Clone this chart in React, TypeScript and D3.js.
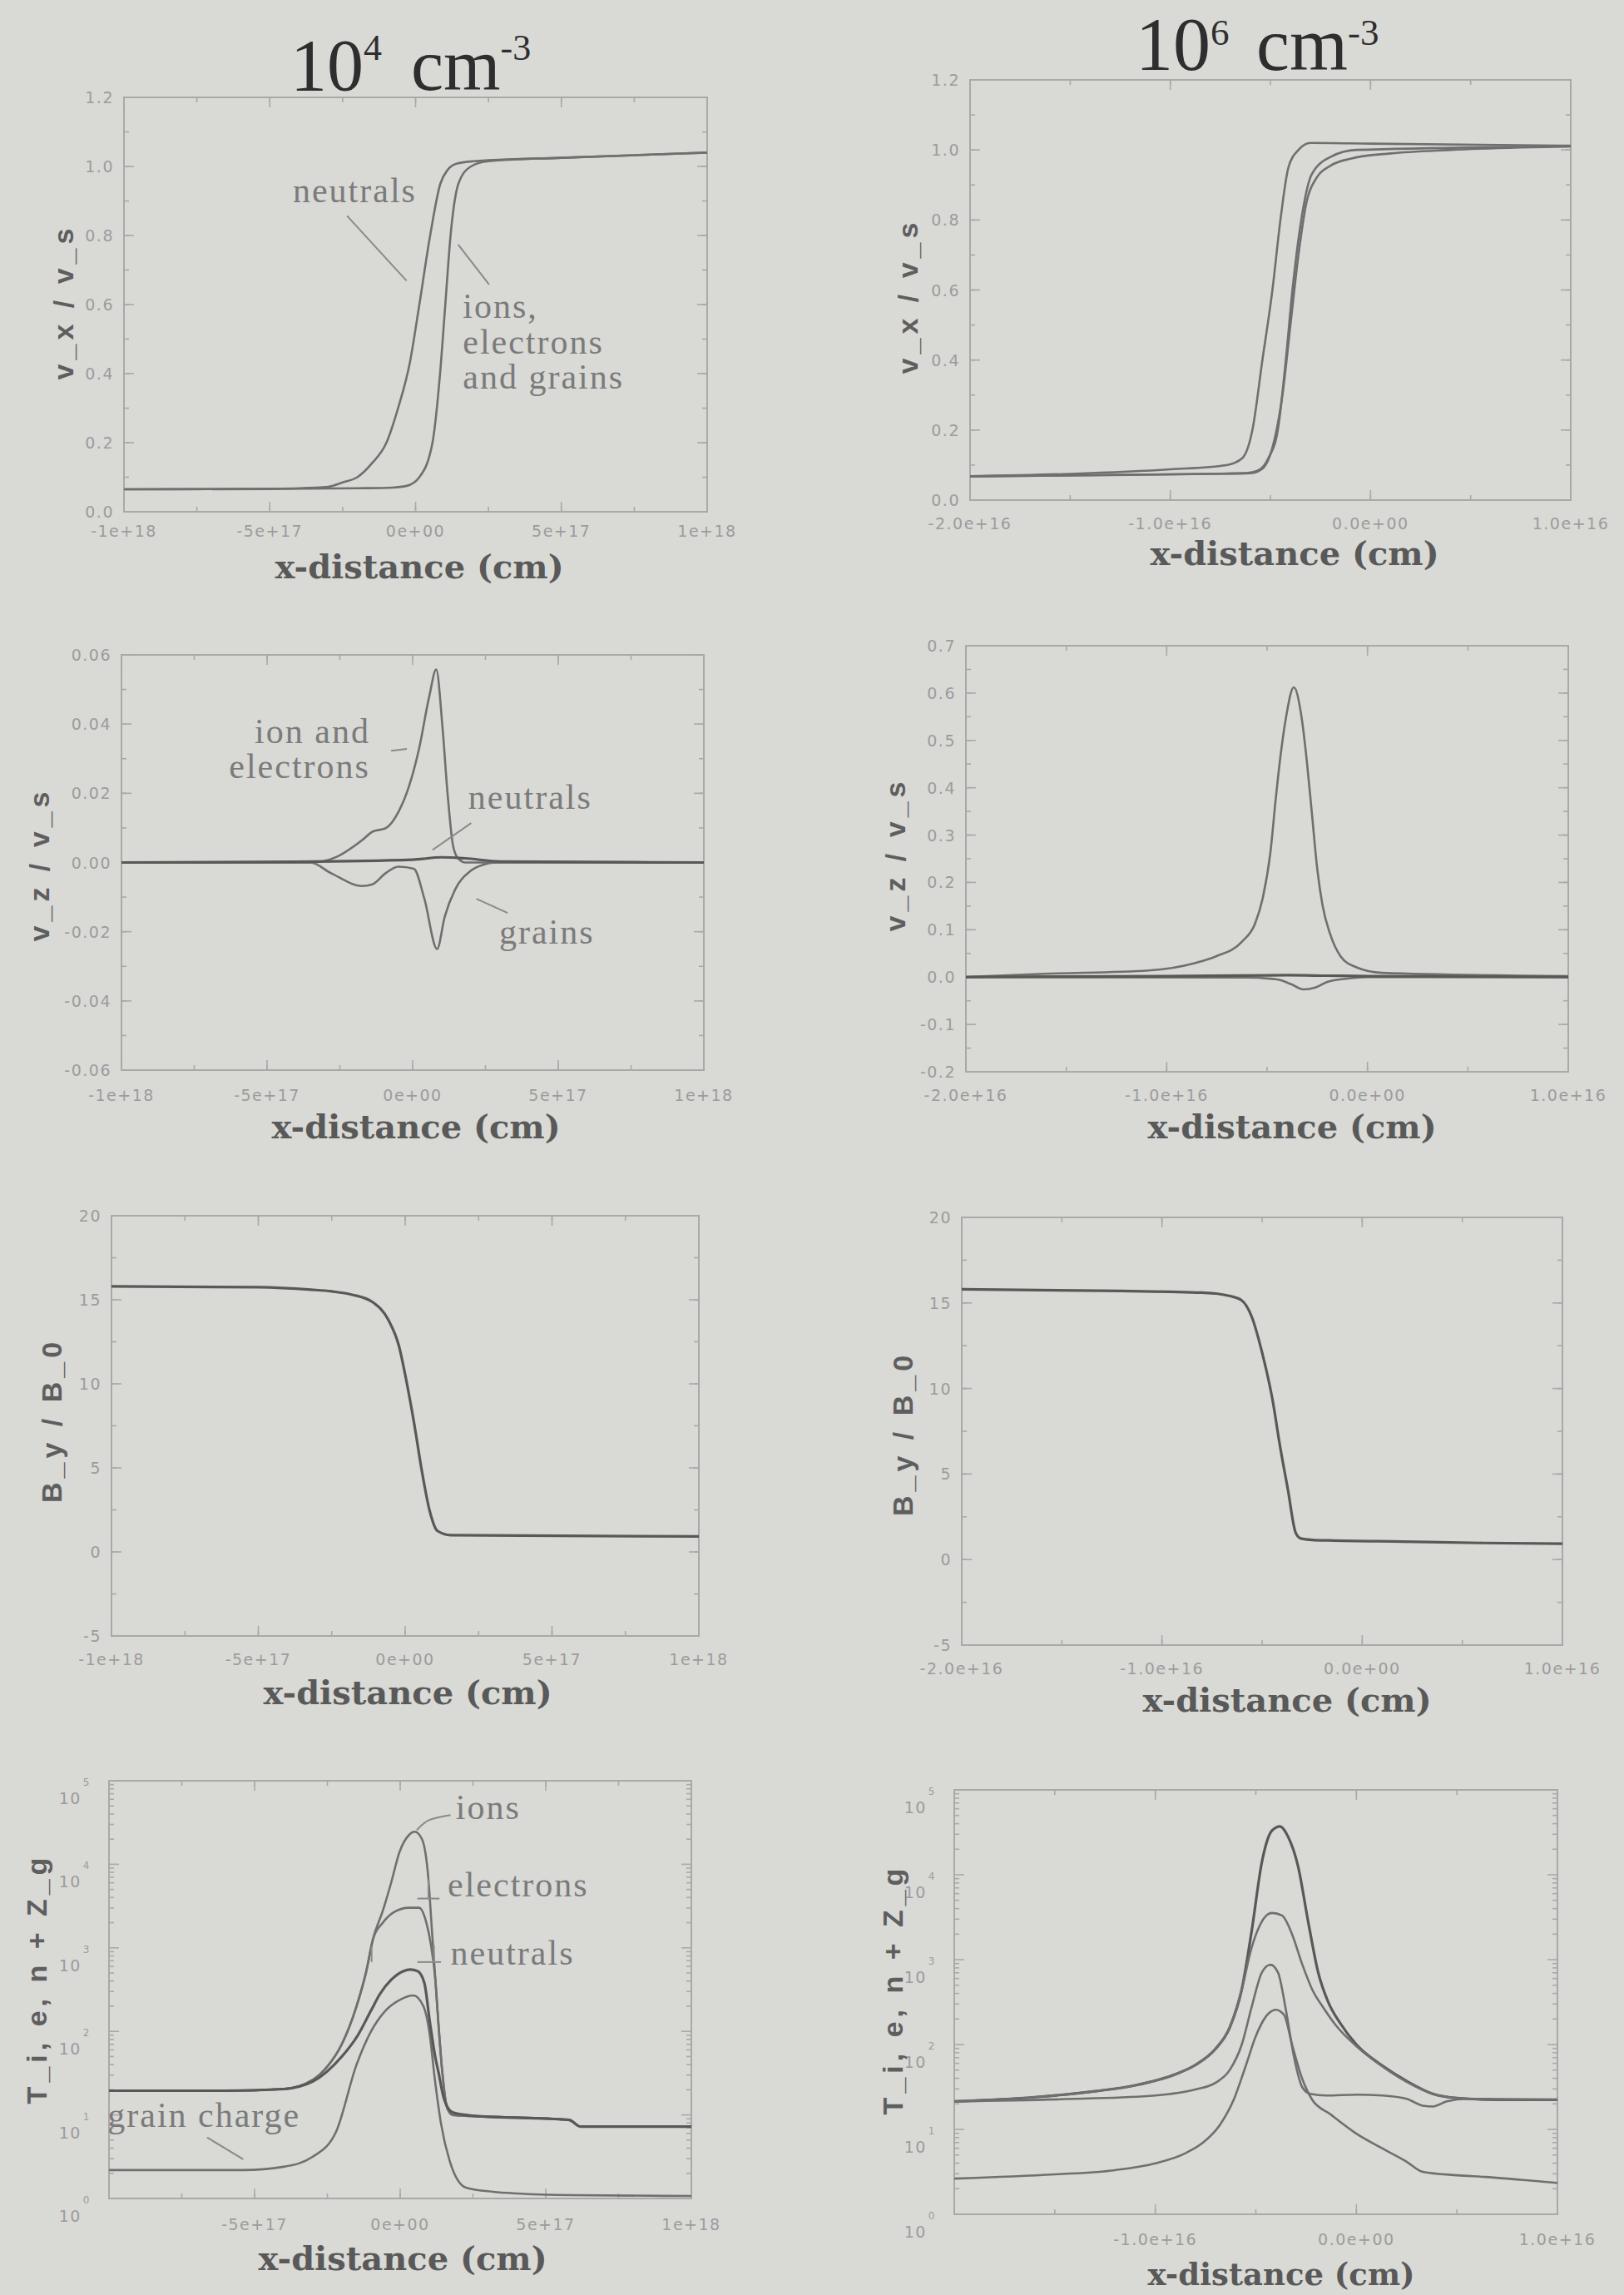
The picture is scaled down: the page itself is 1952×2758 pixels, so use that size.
import React from "react";
import * as d3 from "d3";

type Pt = [number, number];

// ---------- data ----------
// left column: x in units of 1e17 cm, right column: x in units of 1e15 cm
const leftXTicks = [-10, -5, 0, 5, 10];
const leftXLabels = ["-1e+18", "-5e+17", "0e+00", "5e+17", "1e+18"];
const rightXTicks = [-20, -10, 0, 10];
const rightXLabels = ["-2.0e+16", "-1.0e+16", "0.0e+00", "1.0e+16"];

const vxTicks = [0, 0.2, 0.4, 0.6, 0.8, 1.0, 1.2];
const vxLabels = ["0.0", "0.2", "0.4", "0.6", "0.8", "1.0", "1.2"];
const vz4Ticks = [-0.06, -0.04, -0.02, 0, 0.02, 0.04, 0.06];
const vz4Labels = ["-0.06", "-0.04", "-0.02", "0.00", "0.02", "0.04", "0.06"];
const vz6Ticks = [-0.2, -0.1, 0, 0.1, 0.2, 0.3, 0.4, 0.5, 0.6, 0.7];
const vz6Labels = ["-0.2", "-0.1", "0.0", "0.1", "0.2", "0.3", "0.4", "0.5", "0.6", "0.7"];
const byTicks = [-5, 0, 5, 10, 15, 20];
const byLabels = ["-5", "0", "5", "10", "15", "20"];
const logExps = [0, 1, 2, 3, 4, 5];

// v_x / v_s, n = 1e4
const vxNeutrals4: Pt[] = [[-10, 0.065], [-6, 0.066], [-4, 0.068], [-3, 0.072], [-2.5, 0.085], [-2, 0.1], [-1.5, 0.14], [-1, 0.2], [-0.6, 0.3], [-0.2, 0.43], [0.13, 0.6], [0.5, 0.8], [0.85, 0.95], [1.1, 0.99], [1.4, 1.008], [2, 1.015], [5, 1.025], [10, 1.04]];
const vxIons4: Pt[] = [[-10, 0.065], [-5, 0.066], [-2, 0.068], [-0.8, 0.07], [-0.3, 0.075], [0.13, 0.1], [0.58, 0.2], [0.84, 0.4], [1.02, 0.6], [1.2, 0.8], [1.47, 0.95], [1.9, 1.0], [2.5, 1.015], [5, 1.025], [10, 1.04]];

// v_x / v_s, n = 1e6
const vxNeutrals6: Pt[] = [[-20, 0.068], [-15, 0.075], [-10, 0.088], [-7.2, 0.1], [-6.4, 0.12], [-5.9, 0.2], [-5.4, 0.4], [-4.9, 0.6], [-4.5, 0.8], [-4.1, 0.95], [-3.6, 1.0], [-3.0, 1.02], [0, 1.018], [10, 1.012]];
const vxIons6: Pt[] = [[-20, 0.068], [-12, 0.072], [-8, 0.075], [-6.2, 0.077], [-5.6, 0.085], [-5.1, 0.12], [-4.63, 0.2], [-4.23, 0.4], [-3.9, 0.6], [-3.46, 0.8], [-2.94, 0.93], [-2.0, 0.98], [-0.7, 1.0], [10, 1.01]];
const vxGrains6: Pt[] = [[-20, 0.068], [-8, 0.075], [-6, 0.077], [-5.4, 0.09], [-4.9, 0.15], [-4.4, 0.3], [-4.0, 0.5], [-3.6, 0.7], [-3.2, 0.85], [-2.7, 0.92], [-2.0, 0.955], [-1, 0.975], [1, 0.99], [4, 1.0], [10, 1.01]];

// v_z / v_s, n = 1e4
const vzIons4: Pt[] = [[-10, 0], [-3.5, 0], [-2.62, 0.0016], [-1.73, 0.0065], [-1.38, 0.0089], [-0.93, 0.0099], [-0.49, 0.0146], [-0.13, 0.0219], [0.22, 0.0329], [0.57, 0.048], [0.81, 0.0558], [1.02, 0.0396], [1.2, 0.0198], [1.38, 0.0052], [1.55, 0.0013], [1.82, 0], [10, 0]];
const vzNeutrals4: Pt[] = [[-10, 0], [-4, 0.0002], [0, 0.0008], [1, 0.0015], [1.8, 0.0012], [3, 0.0003], [10, 0]];
const vzGrains4: Pt[] = [[-10, 0], [-3.51, 0], [-2.8, -0.0031], [-1.73, -0.0068], [-1.38, -0.0063], [-0.93, -0.0031], [-0.49, -0.0012], [0.04, -0.0018], [0.4, -0.0104], [0.84, -0.025], [1.1, -0.0157], [1.46, -0.0078], [1.99, -0.0024], [2.44, -0.0006], [2.88, 0], [10, 0]];

// v_z / v_s, n = 1e6
const vzIons6: Pt[] = [[-20, 0], [-16.1, 0.007], [-10.9, 0.014], [-8.57, 0.03], [-7.54, 0.044], [-6.25, 0.075], [-5.6, 0.113], [-5.22, 0.166], [-4.83, 0.265], [-4.58, 0.372], [-4.32, 0.471], [-4.06, 0.548], [-3.67, 0.612], [-3.28, 0.548], [-3.02, 0.456], [-2.76, 0.342], [-2.5, 0.228], [-2.24, 0.152], [-1.86, 0.091], [-1.34, 0.044], [-0.57, 0.021], [0.72, 0.009], [10, 0.002]];
const vzNeutrals6: Pt[] = [[-20, 0], [-10, 0.002], [-4, 0.004], [-2, 0.003], [0, 0.002], [10, 0]];
const vzGrains6: Pt[] = [[-20, 0], [-6, -0.001], [-4.5, -0.005], [-3.8, -0.015], [-3.2, -0.026], [-2.6, -0.022], [-2, -0.01], [-1, -0.003], [0, 0], [10, 0]];

// B_y / B_0
const by4: Pt[] = [[-10, 15.8], [-5, 15.75], [-3.2, 15.6], [-2.5, 15.5], [-1.8, 15.3], [-1.1, 14.85], [-0.57, 13.8], [-0.22, 12.3], [0.05, 10.1], [0.31, 7.6], [0.57, 4.8], [0.84, 2.4], [1.1, 1.25], [1.55, 1.0], [4, 0.97], [10, 0.92]];
const by6: Pt[] = [[-20, 15.8], [-12, 15.7], [-8, 15.6], [-7.3, 15.55], [-6.6, 15.4], [-6.03, 15.16], [-5.52, 14.2], [-5.0, 12.1], [-4.48, 9.35], [-4.1, 6.6], [-3.71, 4.08], [-3.32, 1.56], [-3.06, 1.23], [-2.5, 1.15], [-1.65, 1.12], [2, 1.05], [6, 0.97], [10, 0.93]];

// temperatures and grain charge, log10 values
const tIons4: Pt[] = [[-10, 1.29], [-6, 1.29], [-4, 1.31], [-3, 1.42], [-2.5, 1.58], [-2, 1.85], [-1.5, 2.3], [-1.17, 2.71], [-0.93, 3.11], [-0.6, 3.44], [-0.31, 3.78], [-0.03, 4.14], [0.3, 4.35], [0.5, 4.39], [0.75, 4.3], [0.95, 3.9], [1.11, 3.11], [1.21, 2.61], [1.31, 2.11], [1.45, 1.5], [1.6, 1.1], [1.8, 1.0], [3, 0.98], [5.8, 0.94], [6.2, 0.86], [10, 0.86]];
const tElectrons4: Pt[] = [[-10, 1.29], [-6, 1.29], [-4, 1.31], [-3, 1.42], [-2.5, 1.58], [-2, 1.85], [-1.5, 2.3], [-1.17, 2.71], [-0.93, 3.11], [-0.6, 3.3], [-0.2, 3.43], [0.3, 3.48], [0.65, 3.48], [0.9, 3.3], [1.05, 3.05], [1.21, 2.61], [1.31, 2.11], [1.45, 1.5], [1.6, 1.1], [1.8, 1.0], [3, 0.98], [5.8, 0.94], [6.2, 0.86], [10, 0.86]];
const tNeutrals4: Pt[] = [[-10, 1.29], [-6, 1.29], [-4, 1.31], [-3, 1.4], [-2.51, 1.52], [-2, 1.7], [-1.46, 1.95], [-1, 2.25], [-0.69, 2.45], [-0.3, 2.62], [0.1, 2.72], [0.35, 2.74], [0.6, 2.72], [0.83, 2.58], [1.02, 2.11], [1.2, 1.7], [1.31, 1.52], [1.5, 1.2], [1.8, 1.03], [2.5, 0.99], [5.8, 0.94], [6.2, 0.86], [10, 0.86]];
const zGrain4: Pt[] = [[-10, 0.34], [-5.4, 0.34], [-4, 0.38], [-3, 0.5], [-2.2, 0.8], [-1.5, 1.6], [-1, 2.0], [-0.5, 2.25], [0, 2.38], [0.45, 2.43], [0.8, 2.3], [1.0, 2.0], [1.2, 1.4], [1.4, 0.9], [1.7, 0.45], [2.26, 0.13], [3.2, 0.08], [4, 0.06], [6, 0.04], [10, 0.03]];

const tIons6: Pt[] = [[-20, 1.33], [-16, 1.38], [-13, 1.45], [-11, 1.52], [-9, 1.65], [-8, 1.76], [-7, 1.95], [-6.3, 2.2], [-5.7, 2.65], [-5.2, 3.35], [-4.7, 4.15], [-4.2, 4.52], [-3.8, 4.57], [-3.4, 4.45], [-2.9, 4.1], [-2.4, 3.45], [-1.9, 2.85], [-1.4, 2.5], [-0.8, 2.25], [0, 2.0], [1.3, 1.75], [2.5, 1.57], [3.8, 1.42], [5, 1.37], [7, 1.35], [10, 1.35]];
const tElectrons6: Pt[] = [[-20, 1.33], [-16, 1.38], [-13, 1.45], [-11, 1.52], [-9, 1.65], [-8, 1.76], [-7, 1.95], [-6.3, 2.2], [-5.7, 2.65], [-5.2, 3.15], [-4.7, 3.45], [-4.2, 3.55], [-3.7, 3.52], [-3.2, 3.3], [-2.7, 2.95], [-2.2, 2.65], [-1.6, 2.42], [-1.0, 2.22], [0, 1.98], [1.3, 1.74], [2.5, 1.56], [3.8, 1.42], [5, 1.37], [7, 1.35], [10, 1.35]];
const tNeutrals6: Pt[] = [[-20, 1.33], [-14, 1.36], [-10, 1.4], [-8, 1.47], [-7, 1.55], [-6.3, 1.7], [-5.7, 2.0], [-5.2, 2.45], [-4.7, 2.85], [-4.28, 2.94], [-3.9, 2.85], [-3.5, 2.4], [-3.1, 1.85], [-2.7, 1.5], [-2.3, 1.42], [-1.5, 1.4], [0, 1.41], [1.3, 1.4], [2.5, 1.36], [3.3, 1.28], [3.8, 1.27], [4.5, 1.33], [5.5, 1.36], [10, 1.35]];
const zGrain6: Pt[] = [[-20, 0.42], [-15, 0.47], [-12, 0.52], [-10, 0.6], [-8.5, 0.72], [-7.6, 0.85], [-6.8, 1.05], [-6.1, 1.35], [-5.5, 1.75], [-5.0, 2.1], [-4.5, 2.33], [-4.0, 2.41], [-3.6, 2.35], [-3.2, 2.0], [-2.7, 1.6], [-2.2, 1.35], [-1.3, 1.18], [0, 0.95], [1.26, 0.78], [2.5, 0.62], [3.3, 0.5], [5, 0.46], [6.4, 0.44], [9.5, 0.38], [10, 0.37]];

// ---------- drawing ----------
const W = 1952;
const H = 2758;
const BG = "#d9d9d6";
const LINE = "#6f6f6f";
const FRAME = "#a9a9a9";
const TICKTXT = "#9c9c9c";
const NOTE = "#7b7b7b";

interface Curve { pts: Pt[]; dark?: boolean }
interface Note { text?: string; at?: Pt; anchor?: string; line?: Pt[] }
interface PanelProps {
  id: string;
  box: { l: number; r: number; t: number; b: number };
  xDomain: [number, number];
  yDomain: [number, number];
  log?: boolean;
  xTicks: number[];
  xLabels: string[];
  skipFirstX?: boolean;
  xMinorStep: number;
  yTicks: number[];
  yLabels?: string[];
  yMinorStep?: number;
  curves: Curve[];
  notes?: Note[];
  xTickY: number;
  xTitle: [number, number];
  xTitleSize?: number;
  yTitle: { text: string; x: number; y: number };
}

function Panel(p: PanelProps) {
  const { l, r, t, b } = p.box;
  const x = d3.scaleLinear().domain(p.xDomain).range([l, r]);
  const yLin = d3.scaleLinear().domain(p.yDomain).range([b, t]);
  const yLog = d3.scaleLog().domain([10 ** p.yDomain[0], 10 ** p.yDomain[1]]).range([b, t]);
  const Y = (v: number) => (p.log ? yLog(10 ** v) : yLin(v));
  const line = d3.line<Pt>().x((d) => x(d[0])).y((d) => Y(d[1])).curve(d3.curveMonotoneX);
  const bent = d3.line<Pt>().x((d) => x(d[0])).y((d) => Y(d[1])).curve(d3.curveNatural);

  const xMinor = d3.range(p.xDomain[0], p.xDomain[1] + 1e-9, p.xMinorStep);
  let yMinor: number[] = [];
  if (p.log) {
    for (let e = p.yDomain[0]; e < p.yDomain[1]; e++) for (let k = 2; k < 10; k++) yMinor.push(e + Math.log10(k));
  } else if (p.yMinorStep) {
    yMinor = d3.range(p.yDomain[0], p.yDomain[1] + 1e-9, p.yMinorStep);
  }
  const MJ = 12;
  const MN = 6;
  const tickStyle = { stroke: FRAME, strokeWidth: 1.6 };

  return (
    <g>
      <defs>
        <clipPath id={`clip-${p.id}`}>
          <rect x={l} y={t - 2} width={r - l} height={b - t + 4} />
        </clipPath>
      </defs>
      <rect x={l} y={t} width={r - l} height={b - t} fill="none" stroke={FRAME} strokeWidth={2} />
      {p.xTicks.map((v) => (
        <g key={`xt${v}`} {...tickStyle}>
          <line x1={x(v)} x2={x(v)} y1={b} y2={b - MJ} />
          <line x1={x(v)} x2={x(v)} y1={t} y2={t + MJ} />
        </g>
      ))}
      {xMinor.map((v) => (
        <g key={`xm${v}`} {...tickStyle}>
          <line x1={x(v)} x2={x(v)} y1={b} y2={b - MN} />
          <line x1={x(v)} x2={x(v)} y1={t} y2={t + MN} />
        </g>
      ))}
      {(p.log ? logExps : p.yTicks).map((v) => (
        <g key={`yt${v}`} {...tickStyle}>
          <line x1={l} x2={l + MJ} y1={Y(v)} y2={Y(v)} />
          <line x1={r} x2={r - MJ} y1={Y(v)} y2={Y(v)} />
        </g>
      ))}
      {yMinor.map((v) => (
        <g key={`ym${v}`} {...tickStyle}>
          <line x1={l} x2={l + MN} y1={Y(v)} y2={Y(v)} />
          <line x1={r} x2={r - MN} y1={Y(v)} y2={Y(v)} />
        </g>
      ))}
      <g fontFamily="DejaVu Sans" fontSize={19} fill={TICKTXT} letterSpacing={1.5}>
        {p.xTicks.map((v, i) =>
          p.skipFirstX && i === 0 ? null : (
            <text key={`xl${v}`} x={x(v)} y={p.xTickY} textAnchor="middle">
              {p.xLabels[i]}
            </text>
          )
        )}
        {p.log
          ? logExps.map((v) => (
              <text key={`yl${v}`} x={l - 22} y={Y(v) + 28} textAnchor="end">
                10
                <tspan dx={2} dy={-22} fontSize={12}>
                  {v}
                </tspan>
              </text>
            ))
          : p.yTicks.map((v, i) => (
              <text key={`yl${v}`} x={l - 12} y={Y(v) + 7} textAnchor="end">
                {p.yLabels ? p.yLabels[i] : String(v)}
              </text>
            ))}
      </g>
      <g clipPath={`url(#clip-${p.id})`} fill="none" strokeLinejoin="round" strokeLinecap="round">
        {p.curves.map((c, i) => (
          <path
            key={i}
            d={line(c.pts) || ""}
            stroke={c.dark ? "#585858" : LINE}
            strokeWidth={c.dark ? 3.2 : 2.6}
          />
        ))}
      </g>
      {(p.notes || []).map((n, i) =>
        n.line ? (
          <path key={`n${i}`} d={(n.line.length > 2 ? bent : line)(n.line) || ""} fill="none" stroke="#8a8a8a" strokeWidth={2} />
        ) : (
          <text
            key={`n${i}`}
            x={x(n.at![0])}
            y={Y(n.at![1])}
            textAnchor={n.anchor || "start"}
            fontFamily="Liberation Serif"
            fontSize={42}
            letterSpacing={2}
            fill={NOTE}
          >
            {n.text}
          </text>
        )
      )}
      <text
        x={p.xTitle[0]}
        y={p.xTitle[1]}
        textAnchor="middle"
        fontFamily="DejaVu Serif"
        fontWeight="bold"
        fontSize={p.xTitleSize || 40}
        fill="#595959"
      >
        x-distance (cm)
      </text>
      <text
        transform={`translate(${p.yTitle.x},${p.yTitle.y}) rotate(-90)`}
        textAnchor="middle"
        dominantBaseline="middle"
        fontFamily="Liberation Sans"
        fontWeight="bold"
        fontSize={34}
        letterSpacing={5}
        fill="#5e5e5e"
      >
        {p.yTitle.text}
      </text>
    </g>
  );
}

const panels: PanelProps[] = [
  {
    id: "p1",
    box: { l: 149, r: 850, t: 117, b: 615 },
    xDomain: [-10, 10], yDomain: [0, 1.2],
    xTicks: leftXTicks, xLabels: leftXLabels, xMinorStep: 2.5,
    yTicks: vxTicks, yLabels: vxLabels, yMinorStep: 0.1,
    curves: [{ pts: vxIons4 }, { pts: vxNeutrals4 }],
    notes: [
      { text: "neutrals", at: [0.04, 0.896], anchor: "end" },
      { line: [[-2.35, 0.857], [-0.31, 0.669]] },
      { text: "ions,", at: [1.62, 0.562] },
      { text: "electrons", at: [1.62, 0.459] },
      { text: "and grains", at: [1.62, 0.356] },
      { line: [[1.46, 0.774], [2.52, 0.658]] },
    ],
    xTickY: 645, xTitle: [504, 695],
    yTitle: { text: "v_x / v_s", x: 79, y: 363 },
  },
  {
    id: "p2",
    box: { l: 1166, r: 1888, t: 96, b: 601 },
    xDomain: [-20, 10], yDomain: [0, 1.2],
    xTicks: rightXTicks, xLabels: rightXLabels, xMinorStep: 5,
    yTicks: vxTicks, yLabels: vxLabels, yMinorStep: 0.1,
    curves: [{ pts: vxGrains6 }, { pts: vxIons6 }, { pts: vxNeutrals6 }],
    xTickY: 636, xTitle: [1556, 679],
    yTitle: { text: "v_x / v_s", x: 1094, y: 356 },
  },
  {
    id: "p3",
    box: { l: 146, r: 846, t: 787, b: 1286 },
    xDomain: [-10, 10], yDomain: [-0.06, 0.06],
    xTicks: leftXTicks, xLabels: leftXLabels, xMinorStep: 2.5,
    yTicks: vz4Ticks, yLabels: vz4Labels, yMinorStep: 0.01,
    curves: [{ pts: vzIons4 }, { pts: vzGrains4 }, { pts: vzNeutrals4, dark: true }],
    notes: [
      { text: "ion and", at: [-1.46, 0.0345], anchor: "end" },
      { text: "electrons", at: [-1.46, 0.0244], anchor: "end" },
      { line: [[-0.74, 0.0323], [-0.2, 0.0328]] },
      { text: "neutrals", at: [1.91, 0.0156] },
      { line: [[0.68, 0.0036], [2.01, 0.0114]] },
      { text: "grains", at: [2.97, -0.0235] },
      { line: [[2.19, -0.0105], [3.26, -0.0146]] },
    ],
    xTickY: 1323, xTitle: [500, 1368],
    yTitle: { text: "v_z / v_s", x: 50, y: 1039 },
  },
  {
    id: "p4",
    box: { l: 1161, r: 1885, t: 776, b: 1288 },
    xDomain: [-20, 10], yDomain: [-0.2, 0.7],
    xTicks: rightXTicks, xLabels: rightXLabels, xMinorStep: 5,
    yTicks: vz6Ticks, yLabels: vz6Labels, yMinorStep: 0.05,
    curves: [{ pts: vzIons6 }, { pts: vzGrains6 }, { pts: vzNeutrals6, dark: true }],
    xTickY: 1323, xTitle: [1553, 1368],
    yTitle: { text: "v_z / v_s", x: 1079, y: 1027 },
  },
  {
    id: "p5",
    box: { l: 134, r: 840, t: 1461, b: 1966 },
    xDomain: [-10, 10], yDomain: [-5, 20],
    xTicks: leftXTicks, xLabels: leftXLabels, xMinorStep: 2.5,
    yTicks: byTicks, yLabels: byLabels, yMinorStep: 2.5,
    curves: [{ pts: by4, dark: true }],
    xTickY: 2001, xTitle: [490, 2048],
    yTitle: { text: "B_y / B_0", x: 65, y: 1707 },
  },
  {
    id: "p6",
    box: { l: 1156, r: 1878, t: 1463, b: 1977 },
    xDomain: [-20, 10], yDomain: [-5, 20],
    xTicks: rightXTicks, xLabels: rightXLabels, xMinorStep: 5,
    yTicks: byTicks, yLabels: byLabels, yMinorStep: 2.5,
    curves: [{ pts: by6, dark: true }],
    xTickY: 2012, xTitle: [1547, 2057],
    yTitle: { text: "B_y / B_0", x: 1088, y: 1723 },
  },
  {
    id: "p7",
    box: { l: 131, r: 831, t: 2140, b: 2642 },
    xDomain: [-10, 10], yDomain: [0, 5], log: true,
    xTicks: leftXTicks, xLabels: leftXLabels, skipFirstX: true, xMinorStep: 2.5,
    yTicks: logExps,
    curves: [{ pts: zGrain4 }, { pts: tIons4 }, { pts: tElectrons4 }, { pts: tNeutrals4, dark: true }],
    notes: [
      { text: "ions", at: [1.91, 4.54] },
      { line: [[0.57, 4.41], [1.0, 4.53], [1.73, 4.59]] },
      { text: "electrons", at: [1.63, 3.62] },
      { line: [[0.97, 3.82], [0.97, 3.59]] },
      { line: [[0.59, 3.59], [1.35, 3.59]] },
      { text: "neutrals", at: [1.73, 2.8] },
      { line: [[1.16, 3.03], [1.16, 2.83]] },
      { line: [[0.59, 2.83], [1.4, 2.83]] },
      { line: [[-0.98, 3.01], [-0.98, 2.83]] },
      { text: "grain charge", at: [-10.05, 0.86] },
      { line: [[-6.63, 0.73], [-5.39, 0.47]] },
    ],
    xTickY: 2680, xTitle: [484, 2728],
    yTitle: { text: "T_i, e, n + Z_g", x: 47, y: 2378 },
  },
  {
    id: "p8",
    box: { l: 1147, r: 1872, t: 2151, b: 2661 },
    xDomain: [-20, 10], yDomain: [0, 5], log: true,
    xTicks: rightXTicks, xLabels: rightXLabels, skipFirstX: true, xMinorStep: 5,
    yTicks: logExps,
    curves: [{ pts: zGrain6 }, { pts: tIons6, dark: true }, { pts: tElectrons6 }, { pts: tNeutrals6 }],
    xTickY: 2698, xTitle: [1540, 2746], xTitleSize: 37,
    yTitle: { text: "T_i, e, n + Z_g", x: 1076, y: 2391 },
  },
];

function Title({ x, y, size, exp, cmX, rise }: { x: number; y: number; size: number; exp: string; cmX: number; rise: number }) {
  const sup = size * 0.5;
  return (
    <text x={x} y={y} fontFamily="Liberation Serif" fontSize={size} fill="#2e2e2e">
      10
      <tspan fontSize={sup} dy={-rise}>{exp}</tspan>
      <tspan x={cmX} dy={rise}>cm</tspan>
      <tspan fontSize={sup} dy={-rise}>-3</tspan>
    </text>
  );
}

export default function App() {
  return (
    <svg
      width={W}
      height={H}
      viewBox={`0 0 ${W} ${H}`}
      style={{ position: "absolute", left: 0, top: 0, display: "block" }}
    >
      <rect width={W} height={H} fill={BG} />
      <Title x={349} y={108} size={88} exp="4" cmX={494} rise={36} />
      <Title x={1365} y={84} size={90} exp="6" cmX={1510} rise={30} />
      {panels.map((p) => (
        <Panel key={p.id} {...p} />
      ))}
    </svg>
  );
}
